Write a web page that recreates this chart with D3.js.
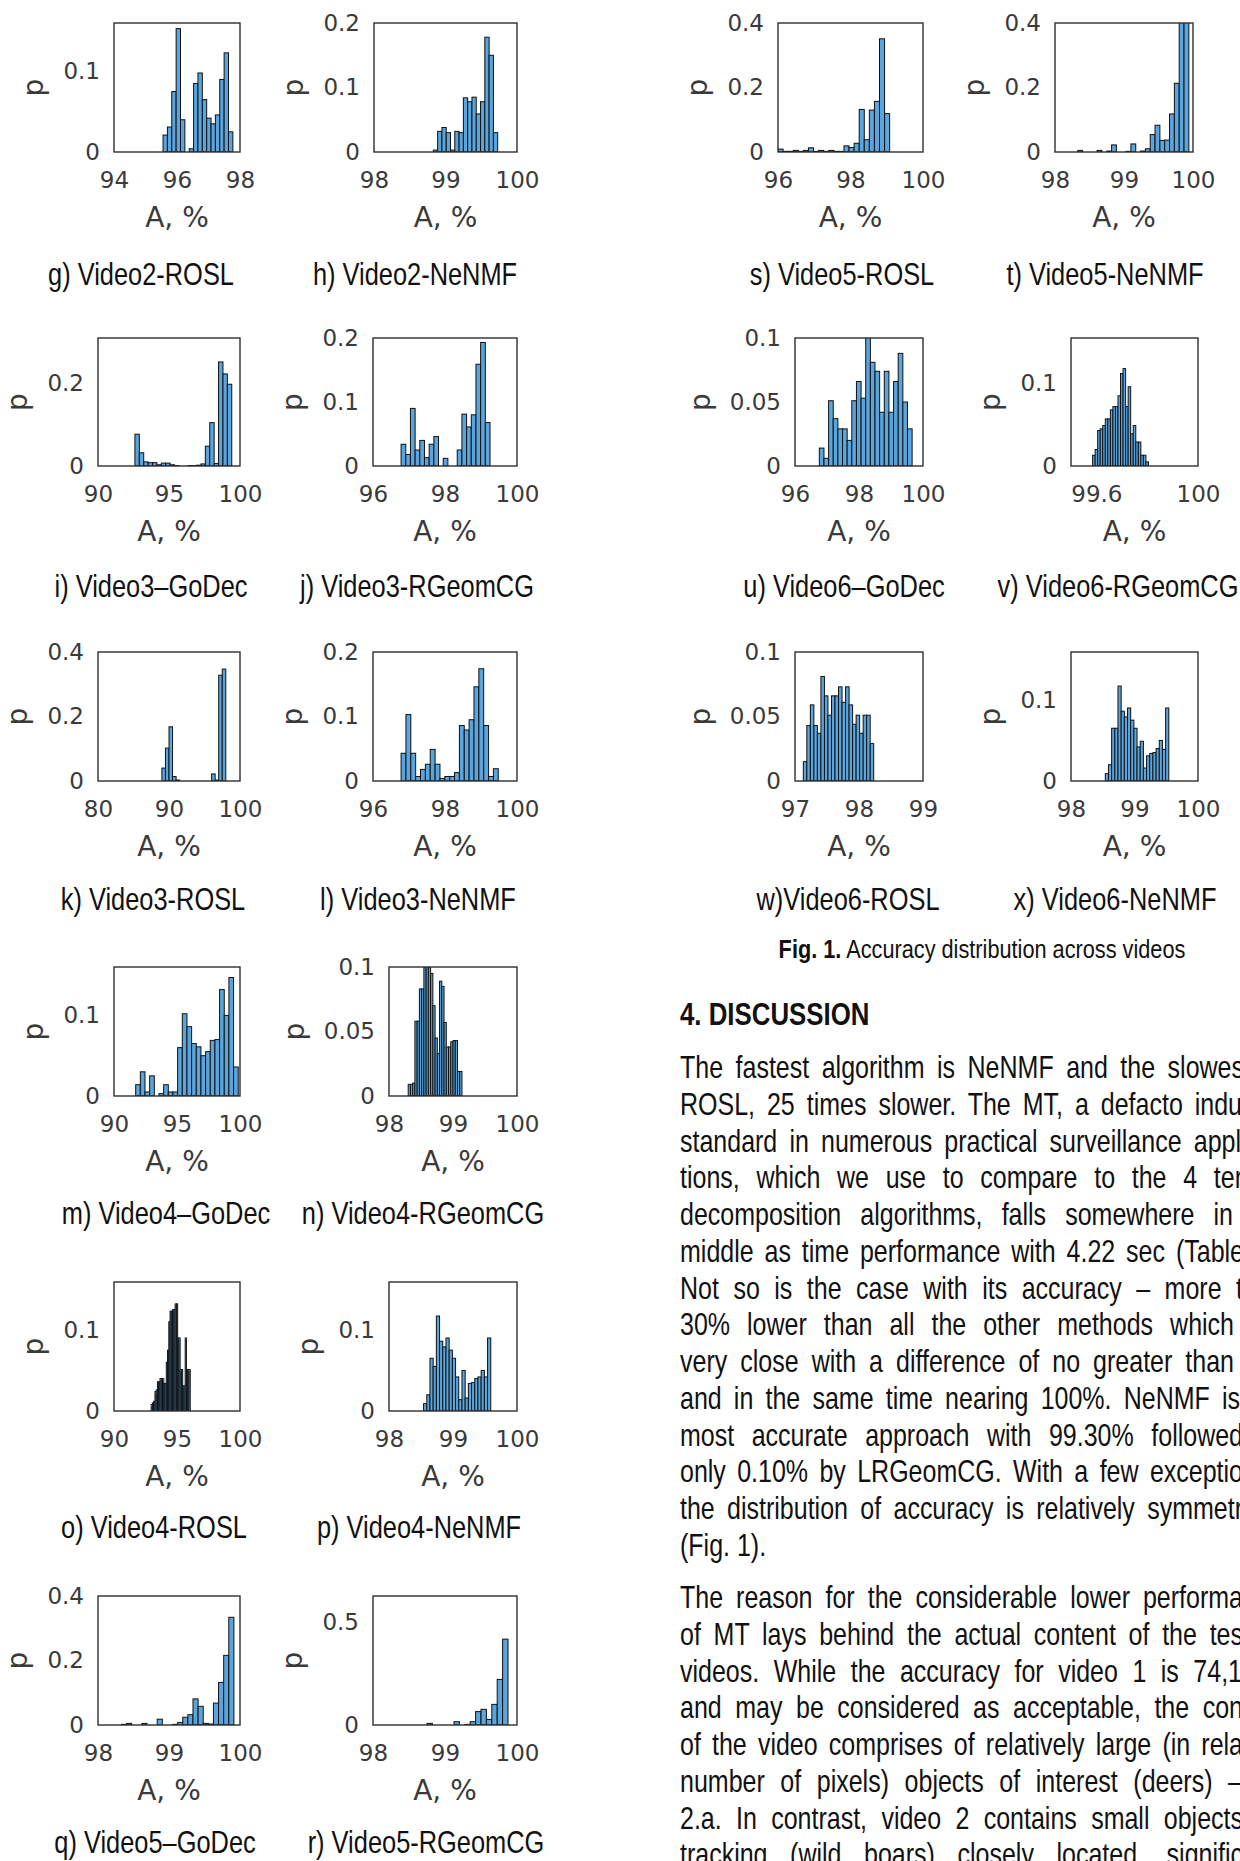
<!DOCTYPE html>
<html>
<head>
<meta charset="utf-8">
<script src="https://cdn.jsdelivr.net/npm/d3@7"></script>
<style>
body { margin: 0; background: #fff; }
svg { display: block; }
</style>
</head>
<body>
<script>
//dati: un pannello per ogni istogramma
var panelIds = ["g", "h", "i", "j", "k", "l", "m", "n", "o", "p", "q", "r", "s", "t", "u", "v", "w", "x"];
var captions = ["g) Video2-ROSL", "h) Video2-NeNMF", "i) Video3\u2013GoDec", "j) Video3-RGeomCG",
    "k) Video3-ROSL", "l) Video3-NeNMF", "m) Video4\u2013GoDec", "n) Video4-RGeomCG",
    "o) Video4-ROSL", "p) Video4-NeNMF", "q) Video5\u2013GoDec", "r) Video5-RGeomCG",
    "s) Video5-ROSL", "t) Video5-NeNMF", "u) Video6\u2013GoDec", "v) Video6-RGeomCG",
    "w)Video6-ROSL", "x) Video6-NeNMF"];
var xDomains = [[94, 98], [98, 100], [90, 100], [96, 100], [80, 100], [96, 100], [90, 100], [98, 100], [90, 100],
    [98, 100], [98, 100], [98, 100], [96, 100], [98, 100], [96, 100], [99.5, 100], [97, 99], [98, 100]];
var xTicks = [[94, 96, 98], [98, 99, 100], [90, 95, 100], [96, 98, 100], [80, 90, 100], [96, 98, 100], [90, 95, 100],
    [98, 99, 100], [90, 95, 100], [98, 99, 100], [98, 99, 100], [98, 99, 100], [96, 98, 100], [98, 99, 100],
    [96, 98, 100], [99.6, 100], [97, 98, 99], [98, 99, 100]];
var yTicks = [[0, 0.1], [0, 0.1, 0.2], [0, 0.2], [0, 0.1, 0.2], [0, 0.2, 0.4], [0, 0.1, 0.2], [0, 0.1], [0, 0.05, 0.1],
    [0, 0.1], [0, 0.1], [0, 0.2, 0.4], [0, 0.5], [0, 0.2, 0.4], [0, 0.2, 0.4], [0, 0.05, 0.1], [0, 0.1],
    [0, 0.05, 0.1], [0, 0.1]];
var yMax = [0.16, 0.2, 0.31, 0.2, 0.4, 0.2, 0.16, 0.1, 0.159, 0.159, 0.4, 0.625, 0.4, 0.4, 0.1, 0.155, 0.1, 0.159];
var binStart = [95.557, 98.83, 92.6, 96.78, 89.0, 96.78, 91.72, 98.3, 92.95, 98.54, 98.33, 98.75, 96.0, 98.33,
    96.76, 99.585, 97.13, 98.54];
var binWidth = [0.1385, 0.06, 0.31, 0.13, 0.5, 0.135, 0.37, 0.035, 0.1, 0.05, 0.072, 0.075, 0.14, 0.07,
    0.145, 0.01, 0.055, 0.05];

//altezze delle barre (p)
var pG = [0.021, 0.031, 0.075, 0.153, 0.040, 0, 0.004, 0.085, 0.098, 0.065, 0.042, 0.035, 0.046, 0.090, 0.123, 0.025];
var pH = [0.003, 0.032, 0.038, 0.030, 0.003, 0.032, 0.030, 0.084, 0.078, 0.085, 0.059, 0.078, 0.178, 0.150, 0.030];
var pI = [0.077, 0.032, 0.010, 0.008, 0.008, 0.003, 0.007, 0.007, 0.003, 0.001, 0, 0, 0.001, 0.001, 0.002, 0.005,
    0.048, 0.105, 0.006, 0.252, 0.223, 0.198];
var pJ = [0.034, 0.018, 0.090, 0.025, 0.040, 0.013, 0.034, 0.046, 0, 0.012, 0, 0, 0.025, 0.081, 0.061, 0.080,
    0.159, 0.193, 0.068];
var pK = [0.040, 0.102, 0.168, 0.014, 0.003, 0, 0, 0, 0, 0, 0, 0, 0, 0, 0.022, 0.003, 0.328, 0.347];
var pL = [0.043, 0.103, 0.043, 0.007, 0.018, 0.026, 0.049, 0.026, 0.004, 0.007, 0.007, 0.013, 0.086, 0.079, 0.095,
    0.146, 0.174, 0.086, 0.007, 0.019];
var pM = [0.014, 0.030, 0.005, 0.025, 0, 0.003, 0.014, 0.005, 0.005, 0.060, 0.102, 0.086, 0.065, 0.061, 0.050,
    0.055, 0.069, 0.070, 0.132, 0.100, 0.147, 0.036];
var pN = [0.009, 0.009, 0.010, 0.058, 0.058, 0.083, 0.083, 0.100, 0.103, 0.100, 0.095, 0.070, 0.045, 0.033, 0.089,
    0.085, 0.057, 0.038, 0.038, 0.042, 0.043, 0.043, 0.019, 0.019];
var pO = [0.008, 0.010, 0.012, 0.024, 0.026, 0.036, 0.036, 0.040, 0.040, 0.040, 0.034, 0.034, 0.060, 0.075, 0.110,
    0.123, 0.123, 0.125, 0.125, 0.132, 0.132, 0.090, 0.090, 0.051, 0.051, 0.031, 0.031, 0.090, 0.051, 0.051, 0.051];
var pP = [0.009, 0.020, 0.065, 0.055, 0.117, 0.086, 0.079, 0.090, 0.075, 0.065, 0.042, 0.014, 0.050, 0.016, 0.034,
    0.035, 0.040, 0.042, 0.050, 0.042, 0.090];
var pQ = [0.002, 0.005, 0, 0, 0.005, 0, 0, 0.018, 0, 0, 0.002, 0.008, 0.024, 0.032, 0.081, 0.058, 0.005, 0.003,
    0.068, 0.132, 0.216, 0.334];
var pR = [0.008, 0, 0, 0, 0, 0.016, 0, 0.003, 0.016, 0.065, 0.076, 0.027, 0.100, 0.221, 0.416];
var pS = [0.009, 0.002, 0.002, 0.005, 0.002, 0.005, 0.013, 0.002, 0.005, 0.002, 0.005, 0.002, 0.002, 0.019, 0.014,
    0.027, 0.132, 0.038, 0.130, 0.157, 0.351, 0.119];
var pT = [0.005, 0, 0, 0, 0.005, 0, 0.003, 0.022, 0, 0, 0.002, 0.025, 0, 0.003, 0.010, 0.054, 0.083, 0.036, 0.037,
    0.118, 0.213, 0.41, 0.41];
var pU = [0.014, 0.006, 0.051, 0.037, 0.029, 0.029, 0.020, 0.051, 0.066, 0.053, 0.102, 0.081, 0.074, 0.042, 0.074,
    0.042, 0.066, 0.088, 0.050, 0.029];
var pV = [0.013, 0.020, 0.043, 0.045, 0.049, 0.057, 0.057, 0.068, 0.072, 0.072, 0.085, 0.112, 0.118, 0.072, 0.096,
    0.039, 0.049, 0.029, 0.029, 0.013, 0.013, 0.005];
var pW = [0.015, 0.043, 0.059, 0.043, 0.037, 0.081, 0.066, 0.051, 0.066, 0.066, 0.073, 0.061, 0.073, 0.059, 0.044,
    0.051, 0.037, 0.051, 0.051, 0.029];
var pX = [0.009, 0.020, 0.065, 0.065, 0.117, 0.086, 0.079, 0.090, 0.075, 0.065, 0.042, 0.049, 0.016, 0.031, 0.034,
    0.035, 0.040, 0.050, 0.039, 0.090];
var barHeights = [pG, pH, pI, pJ, pK, pL, pM, pN, pO, pP, pQ, pR, pS, pT, pU, pV, pW, pX];

//testo della colonna destra
var bodyLines = [
    "The fastest algorithm is NeNMF and the slowes",
    "ROSL, 25 times slower. The MT, a defacto indu",
    "standard in numerous practical surveillance appl",
    "tions, which we use to compare to the 4 ter",
    "decomposition algorithms, falls somewhere in",
    "middle as time performance with 4.22 sec (Table",
    "Not so is the case with its accuracy \u2013 more t",
    "30% lower than all the other methods which",
    "very close with a difference of no greater than",
    "and in the same time nearing 100%. NeNMF is",
    "most accurate approach with 99.30% followed",
    "only 0.10% by LRGeomCG. With a few exceptio",
    "the distribution of accuracy is relatively symmetr",
    "(Fig. 1).",
    "The reason for the considerable lower performa",
    "of MT lays behind the actual content of the tes",
    "videos. While the accuracy for video 1 is 74,1",
    "and may be considered as acceptable, the con",
    "of the video comprises of relatively large (in rela",
    "number of pixels) objects of interest (deers) \u2013",
    "2.a. In contrast, video 2 contains small objects",
    "tracking (wild boars) closely located, signific"
];

//layout (posizioni in pixel)
var boxes = [[114, 240, 23, 152], [374, 517, 23, 152], [98, 240, 338, 466], [373, 517, 338, 466],
    [98, 240, 652, 781], [373, 517, 652, 781], [114, 240, 967, 1096], [389, 517, 967, 1096],
    [114, 240, 1282, 1411], [389, 517, 1282, 1411], [98, 240, 1596, 1725], [373, 517, 1596, 1725],
    [778, 923, 23, 152], [1055, 1193, 23, 152], [795, 923, 338, 466], [1071, 1198, 338, 466],
    [795, 923, 652, 781], [1071, 1198, 652, 781]];
var capPos = [[141, 285], [415, 285], [151, 597], [417, 597], [153, 910], [418, 910], [166, 1224], [423, 1224],
    [154, 1538], [419, 1538], [155, 1853], [426, 1853], [842, 285], [1105, 285], [844, 597], [1118, 597],
    [848, 910], [1115, 910]];
var lineRight = [1244, 1242, 1241, 1243, 1233, 1244, 1243, 1234, 1234, 1240, 1243, 1243, 1243, 0,
    1243, 1243, 1242, 1243, 1243, 1242, 1243, 1243];

var width = 1240, height = 1861;
var tickFont = "'DejaVu Sans', sans-serif";
var arial = "'Liberation Sans', Arial, sans-serif";
var squeeze = 0.82;   //Arial Narrow ~ Arial compresso
var fmt = d3.format("~g");

var svg = d3.select("body")
    .append("svg")
    .attr("width", width)
    .attr("height", height)
    .style("background", "#fff");

//testo stretto (Arial compresso orizzontalmente)
function narrowText(parent, x, y, size) {
    return parent.append("text")
        .attr("transform", "translate(" + x + "," + y + ") scale(" + squeeze + ",1)")
        .attr("font-family", arial)
        .attr("font-size", size)
        .attr("fill", "#111");
}

//disegno dei pannelli
panelIds.forEach(function (id, k) {
    var b = boxes[k];
    var xScale = d3.scaleLinear().domain(xDomains[k]).range([b[0], b[1]]);
    var yScale = d3.scaleLinear().domain([0, yMax[k]]).range([b[3], b[2]]);
    var g = svg.append("g").attr("class", "panel " + id);

    g.append("clipPath").attr("id", "clip-" + id)
        .append("rect")
        .attr("x", b[0]).attr("y", b[2])
        .attr("width", b[1] - b[0]).attr("height", b[3] - b[2]);

    var s0 = binStart[k], bw = binWidth[k];
    g.append("g")
        .attr("clip-path", "url(#clip-" + id + ")")
        .selectAll("rect")
        .data(barHeights[k])
        .join("rect")
        .attr("x", function (d, i) { return xScale(s0 + i * bw); })
        .attr("width", function (d, i) { return xScale(s0 + (i + 1) * bw) - xScale(s0 + i * bw); })
        .attr("y", function (d) { return yScale(d); })
        .attr("height", function (d) { return yScale(0) - yScale(d); })
        .attr("fill", "#5aa5dd")
        .attr("stroke", "#111")
        .attr("stroke-width", 1);

    //riquadro
    g.append("rect")
        .attr("x", b[0]).attr("y", b[2])
        .attr("width", b[1] - b[0]).attr("height", b[3] - b[2])
        .attr("fill", "none")
        .attr("stroke", "#2e2e2e")
        .attr("stroke-width", 1.4);

    //assi
    var yAx = g.append("g")
        .attr("transform", "translate(" + b[0] + ",0)")
        .call(d3.axisLeft(yScale).tickValues(yTicks[k]).tickSize(0).tickPadding(14).tickFormat(fmt));
    yAx.select(".domain").remove();
    yAx.selectAll("text").attr("font-family", tickFont).attr("font-size", 23).attr("fill", "#3a3a3a");

    var xAx = g.append("g")
        .attr("transform", "translate(0," + b[3] + ")")
        .call(d3.axisBottom(xScale).tickValues(xTicks[k]).tickSize(0).tickPadding(20).tickFormat(fmt));
    xAx.select(".domain").remove();
    xAx.selectAll("text").attr("font-family", tickFont).attr("font-size", 23).attr("fill", "#3a3a3a");

    //nomi degli assi
    g.append("text")
        .attr("x", (b[0] + b[1]) / 2)
        .attr("y", b[3] + 75)
        .attr("text-anchor", "middle")
        .attr("font-family", tickFont).attr("font-size", 28).attr("fill", "#3a3a3a")
        .text("A, %");

    //larghezza massima delle etichette y
    var labW = 0;
    yAx.selectAll("text").each(function () { labW = Math.max(labW, this.getComputedTextLength()); });
    var px = b[0] - 14 - labW - 20, py = (b[2] + b[3]) / 2;
    g.append("text")
        .attr("transform", "translate(" + px + "," + py + ") rotate(-90)")
        .attr("text-anchor", "middle")
        .attr("font-family", tickFont).attr("font-size", 28).attr("fill", "#3a3a3a")
        .text("p");

    //didascalia
    narrowText(g, capPos[k][0], capPos[k][1], 31)
        .attr("text-anchor", "middle")
        .text(captions[k]);
});

//didascalia della figura
var cap = narrowText(svg, 982, 958, 26.5).attr("text-anchor", "middle");
cap.append("tspan").attr("font-weight", "bold").text("Fig. 1.");
cap.append("tspan").text(" Accuracy distribution across videos");

//titolo della sezione
narrowText(svg, 680, 1025, 31.5).attr("font-weight", "bold").text("4. DISCUSSION");

//testo giustificato
bodyLines.forEach(function (line, i) {
    var y = i < 14 ? 1078 + i * 36.75 : 1608 + (i - 14) * 36.75;
    var t = narrowText(svg, 680, y, 30.5).text(line);
    if (lineRight[i] > 0) {
        var gaps = line.split(" ").length - 1;
        var target = (lineRight[i] - 680) / squeeze;
        var extra = (target - t.node().getComputedTextLength()) / gaps;
        t.style("word-spacing", extra + "px");
    }
});
</script>
</body>
</html>
